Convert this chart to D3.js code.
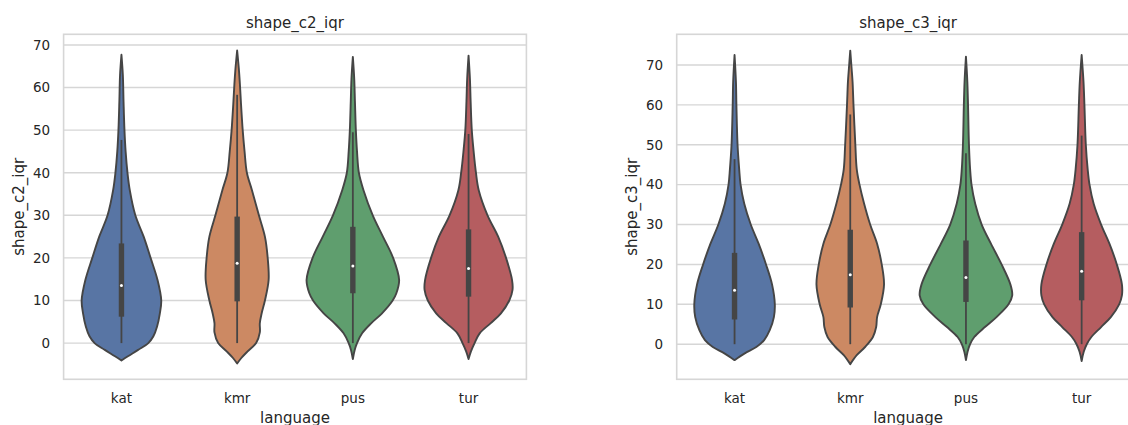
<!DOCTYPE html>
<html><head><meta charset="utf-8">
<script src="https://cdn.jsdelivr.net/npm/d3@7"></script>
<style>
body{margin:0;background:#fff;}
text{font-family:"DejaVu Sans",sans-serif;fill:#262626;}
</style>
</head><body>
<svg id="c" width="1128" height="425"></svg>
<script>
// ---------- data ----------
const languages = ["kat", "kmr", "pus", "tur"];
const yTicks = [0, 10, 20, 30, 40, 50, 60, 70];
const titles = ["shape_c2_iqr", "shape_c3_iqr"];

// density profiles: [value, relative half-width]
const c2Kat = [[-4.1,0],[-3.1,0.14],[-1.6,0.36],[0,0.58],[1.6,0.69],[3.9,0.77],[7,0.83],[10,0.86],[14.8,0.78],[20,0.63],[25,0.48],[30,0.30],[35.9,0.18],[40,0.13],[45,0.09],[50,0.065],[56.8,0.045],[63,0.03],[67.7,0]];
const c2Kmr = [[-4.8,0],[-3.5,0.09],[-2,0.22],[0,0.41],[2.5,0.49],[4.7,0.49],[7,0.53],[10,0.60],[14.8,0.68],[20,0.66],[25,0.60],[30,0.47],[35.9,0.32],[40,0.21],[45,0.16],[50,0.12],[56.8,0.08],[60.7,0.06],[64.6,0.035],[68.7,0]];
const c2Pus = [[-3.75,0],[-1.6,0.04],[0,0.09],[2.3,0.2],[4.7,0.40],[7,0.63],[10,0.86],[11.7,0.94],[14.8,1.0],[20,0.87],[25,0.65],[30,0.43],[35.9,0.23],[40,0.13],[45,0.09],[50,0.065],[56.8,0.045],[62,0.03],[67.2,0]];
const c2Tur = [[-3.75,0],[-2,0.05],[0,0.13],[2.3,0.24],[4.7,0.48],[7,0.70],[10,0.88],[12.5,0.95],[14.8,0.94],[20,0.81],[25,0.64],[30,0.41],[35.9,0.22],[40,0.16],[45,0.11],[50,0.07],[56.8,0.045],[62,0.03],[67.5,0]];

const c3Kat = [[-4,0],[-2.3,0.22],[-0.7,0.47],[1,0.64],[3.5,0.76],[6.8,0.85],[10,0.87],[15,0.81],[20,0.68],[25.2,0.52],[30,0.35],[35.2,0.21],[40,0.13],[43.9,0.10],[50,0.065],[60,0.04],[65.8,0.03],[72.5,0]];
const c3Kmr = [[-5,0],[-2.75,0.14],[-0.7,0.32],[1.8,0.49],[4.3,0.56],[6.8,0.58],[10,0.66],[15,0.73],[20,0.68],[25.2,0.58],[30,0.43],[35.2,0.3],[40,0.2],[43.9,0.14],[50,0.11],[60,0.07],[65.8,0.05],[69,0.03],[73.6,0]];
const c3Pus = [[-4,0],[-1.9,0.035],[0,0.09],[1.8,0.18],[4.3,0.41],[6.8,0.66],[10,0.92],[12.25,1.0],[15,0.96],[20,0.77],[25.2,0.54],[30,0.34],[35.2,0.2],[40,0.12],[43.9,0.09],[50,0.065],[60,0.045],[65.8,0.03],[72.1,0]];
const c3Tur = [[-4.2,0],[-1.9,0.045],[0,0.11],[1.8,0.21],[4.3,0.42],[6.8,0.63],[10,0.81],[12.25,0.87],[15,0.87],[20,0.76],[25.2,0.6],[30,0.42],[35.2,0.26],[40,0.17],[43.9,0.13],[50,0.09],[60,0.06],[65.8,0.04],[72.5,0]];

// box stats: [whiskerLow, q1, median, q3, whiskerHigh]
const c2Box = [[0,6.2,13.5,23.4,47.7],[0,9.8,18.75,29.7,58.3],[0,11.7,18.1,27.3,49.5],[0,10.9,17.5,26.7,49.1]];
const c3Box = [[0,6.2,13.5,22.9,46.4],[0,9.2,17.4,28.7,57.6],[0,10.6,16.7,26,47.9],[0,11,18.3,28.1,52.3]];

const colors = ["#5875a4", "#cc8963", "#5f9e6e", "#b55d60"];

// ---------- layout ----------
const panels = [
  {title: titles[0], profiles: [c2Kat, c2Kmr, c2Pus, c2Tur], boxes: c2Box, yDomain: [-8.5, 72.5], left: 63.6, ylabX: 24},
  {title: titles[1], profiles: [c3Kat, c3Kmr, c3Pus, c3Tur], boxes: c3Box, yDomain: [-8.8, 77.7], left: 676.7, ylabX: 637}
];
const W = 462.8, axTop = 34.3, axBottom = 379.3;
const lineCol = "#454545";
const svg = d3.select("#c");

panels.forEach(p => {
  const g = svg.append("g");
  const x = d3.scaleBand().domain(languages).range([p.left, p.left + W]);
  const y = d3.scaleLinear().domain(p.yDomain).range([axBottom, axTop]);
  const hw = x.bandwidth() * 0.4;

  // grid
  g.selectAll("line.grid").data(yTicks).join("line")
    .attr("x1", p.left).attr("x2", p.left + W)
    .attr("y1", d => y(d)).attr("y2", d => y(d))
    .attr("stroke", "#d6d6d6").attr("stroke-width", 1.4);

  // frame
  g.append("rect").attr("x", p.left).attr("y", axTop).attr("width", W).attr("height", axBottom - axTop)
    .attr("fill", "none").attr("stroke", "#d6d6d6").attr("stroke-width", 1.6);

  // violins
  p.profiles.forEach((prof, i) => {
    const cx = x(languages[i]) + x.bandwidth() / 2;
    const area = d3.area()
      .y(d => y(d[0]))
      .x0(d => cx - d[1] * hw)
      .x1(d => cx + d[1] * hw)
      .curve(d3.curveCatmullRom.alpha(0.5));
    g.append("path").datum(prof).attr("d", area)
      .attr("fill", colors[i]).attr("stroke", lineCol).attr("stroke-width", 1.9)
      .attr("stroke-linejoin", "round");
    const b = p.boxes[i];
    g.append("line").attr("x1", cx).attr("x2", cx).attr("y1", y(b[0])).attr("y2", y(b[4]))
      .attr("stroke", lineCol).attr("stroke-width", 1.8);
    g.append("line").attr("x1", cx).attr("x2", cx).attr("y1", y(b[1])).attr("y2", y(b[3]))
      .attr("stroke", lineCol).attr("stroke-width", 5.4);
    g.append("circle").attr("cx", cx).attr("cy", y(b[2])).attr("r", 1.5).attr("fill", "#fff");
  });

  // axes
  const ya = g.append("g").attr("transform", `translate(${p.left},0)`)
    .call(d3.axisLeft(y).tickValues(yTicks).tickSize(0).tickPadding(13.5));
  ya.select(".domain").remove();
  ya.selectAll("text").style("font-size", "13.5px").attr("fill", "#262626");

  const xa = g.append("g").attr("transform", `translate(0,${axBottom})`)
    .call(d3.axisBottom(x).tickSize(0).tickPadding(14.2));
  xa.select(".domain").remove();
  xa.selectAll("text").style("font-size", "13.5px").attr("fill", "#262626");

  // title & labels
  g.append("text").attr("x", p.left + W / 2).attr("y", 27.5).attr("text-anchor", "middle")
    .style("font-size", "15px").text(p.title);
  g.append("text").attr("x", p.left + W / 2).attr("y", 422.5).attr("text-anchor", "middle")
    .style("font-size", "15px").text("language");
  g.append("text").attr("transform", `translate(${p.ylabX},${(axTop + axBottom) / 2}) rotate(-90)`)
    .attr("text-anchor", "middle").style("font-size", "15px").text(p.title);
});
</script>
</body></html>
